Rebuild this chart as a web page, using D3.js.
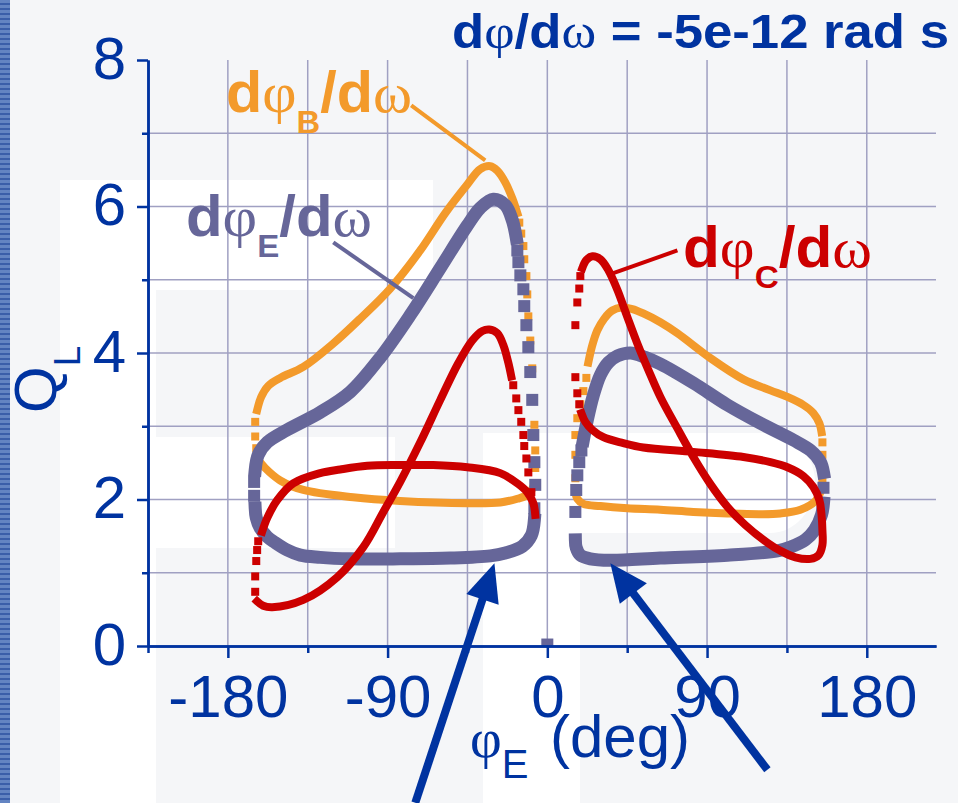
<!DOCTYPE html>
<html>
<head>
<meta charset="utf-8">
<script src="https://cdn.jsdelivr.net/npm/d3@7"></script>
<style>
  body { margin: 0; background: #f5f6f8; }
  svg { display: block; }
</style>
</head>
<body>
<div id="chart"></div>
<script>
// ---- axes ----
const xTicksMajor = [-180, -90, 0, 90, 180];
const xTicksMinor = [-225, -135, -45, 45, 135];
const yTicksMajor = [0, 2, 4, 6, 8];
const yTicksMinor = [1, 3, 5, 7];
const gridX = [-180, -135, -90, -45, 0, 45, 90, 135, 180];
const gridY = [1, 2, 3, 4, 5, 6, 7];

// ---- dφB/dω (orange) : [phiE deg, QL] ----
const bLeftLine1 = [[-163.5,2.56],[-159.0,2.43],[-150.5,2.26],[-137.5,2.13],[-109.4,2.03],[-82.9,1.98],[-45.1,1.95],[-26.5,1.96],[-16.9,2.01],[-10.7,2.07],[-7.3,2.21]];
const bLeftDots1 = [[-6.8,2.43],[-6.8,2.67],[-7.3,3.02],[-7.9,3.38],[-8.5,3.79],[-9.6,4.17],[-10.7,4.50],[-11.3,4.80],[-11.8,5.05],[-13.0,5.28],[-13.5,5.46],[-14.7,5.63],[-15.8,5.78]];
const bLeftLine2 = [[-16.9,5.91],[-19.7,6.11],[-23.7,6.33],[-28.2,6.49],[-32.1,6.55],[-37.8,6.51],[-45.1,6.30],[-57.5,5.91],[-71.6,5.40],[-88.5,4.88],[-105.4,4.47],[-120.6,4.13],[-137.5,3.81],[-150.5,3.66],[-157.3,3.55],[-161.2,3.40],[-163.5,3.22]];
const bLeftDots2 = [[-164.6,3.06],[-164.6,2.86],[-164.0,2.70]];
const bRightDots1 = [[15.8,2.29],[15.8,2.61],[15.8,2.88],[16.9,3.11],[18.6,3.30],[20.3,3.48],[22.0,3.66]];
const bRightLine1 = [[23.1,3.87],[25.4,4.11],[28.2,4.31],[32.1,4.47],[36.6,4.58],[41.7,4.62],[47.9,4.60],[54.1,4.54],[63.7,4.42],[73.3,4.27],[91.9,3.93],[110.5,3.64],[125.7,3.49],[135.3,3.40],[144.3,3.29],[149.9,3.18],[153.3,3.04],[154.5,2.92]];
const bRightDots2 = [[155.0,2.78],[155.0,2.61],[155.0,2.43],[155.0,2.24]];
const bRightLine2 = [[153.9,2.10],[151.1,1.98],[142.6,1.86],[131.3,1.81],[120.1,1.80],[101.5,1.81],[82.3,1.83],[63.7,1.86],[45.1,1.88],[29.9,1.91],[20.3,1.94],[16.9,2.01],[15.8,2.10]];

// ---- dφE/dω (purple) ----
const eLeftLine1 = [[-7.3,1.72],[-9.0,1.51],[-14.1,1.36],[-23.7,1.27],[-32.1,1.23],[-54.7,1.20],[-82.9,1.19],[-111.0,1.19],[-128.0,1.21],[-139.2,1.24],[-146.6,1.31],[-153.3,1.41],[-157.8,1.49],[-161.8,1.61],[-164.0,1.75],[-164.6,1.88]];
const eLeftDots1 = [[-165.2,2.05],[-165.2,2.24]];
const eLeftLine2 = [[-164.6,2.40],[-162.9,2.61],[-157.8,2.78],[-146.6,2.95],[-128.0,3.19],[-111.0,3.47],[-94.1,3.94],[-77.2,4.52],[-60.3,5.16],[-45.1,5.74],[-37.8,5.98],[-30.4,6.10],[-23.7,6.02],[-19.7,5.81],[-17.5,5.57]];
const eLeftDots2 = [[-16.9,5.40],[-16.3,5.24],[-15.2,5.06],[-13.5,4.87],[-13.0,4.64],[-11.8,4.38],[-10.7,4.08],[-9.6,3.74],[-8.5,3.36],[-7.9,2.88],[-7.3,2.51],[-6.8,2.20],[-7.3,1.88]];
const eRightDots1 = [[15.8,1.83],[16.3,2.13],[16.9,2.33],[18.0,2.51],[19.2,2.67]];
const eRightLine1 = [[20.3,2.81],[22.5,3.08],[25.9,3.42],[29.9,3.70],[34.4,3.87],[39.5,3.96],[46.8,4.00],[55.2,3.94],[63.7,3.85],[82.3,3.59],[101.5,3.29],[120.1,3.04],[138.7,2.81],[148.3,2.67],[153.9,2.51],[155.6,2.37]];
const eRightDots2 = [[155.6,2.16]];
const eRightLine2 = [[155.6,1.95],[154.5,1.79],[150.5,1.58],[145.4,1.45],[137.0,1.35],[129.7,1.30],[101.5,1.24],[63.7,1.20],[35.5,1.17],[24.2,1.19],[18.6,1.24],[16.3,1.34],[15.8,1.45]];
const eOrigin = [[0,0.02]];

// ---- dφC/dω (red) ----
const cLeftLine1 = [[-6.8,1.79],[-7.9,1.95],[-11.3,2.10],[-16.3,2.21],[-26.5,2.36],[-45.1,2.44],[-64.3,2.47],[-82.9,2.47],[-101.5,2.46],[-116.7,2.41],[-128.0,2.36],[-143.2,2.22],[-152.2,1.99],[-157.8,1.75],[-160.7,1.56]];
const cLeftDots1 = [[-162.9,1.43],[-163.5,1.31],[-164.0,1.16],[-164.6,0.95],[-164.6,0.74]];
const cLeftLine2 = [[-163.5,0.61],[-160.1,0.55],[-155.0,0.53],[-137.5,0.63],[-118.4,0.94],[-103.7,1.35],[-92.4,1.83],[-82.9,2.24],[-71.6,2.78],[-60.3,3.36],[-50.2,3.86],[-42.3,4.17],[-36.6,4.30],[-32.7,4.32],[-28.2,4.27],[-24.8,4.11],[-22.0,3.87],[-20.3,3.68]];
const cLeftDots2 = [[-19.2,3.56],[-17.5,3.38],[-16.3,3.22],[-14.7,3.06],[-13.5,2.88],[-13.0,2.73],[-11.8,2.56],[-10.7,2.37],[-9.0,2.10]];
const cRightDots1 = [[18.6,5.05],[18.0,4.88],[16.9,4.69],[15.8,4.38],[15.8,3.67],[16.9,3.45],[18.0,3.30]];
const cRightLine1 = [[19.2,3.18],[21.4,3.06],[25.4,2.95],[31.6,2.85],[42.8,2.77],[54.1,2.71],[82.3,2.65],[110.5,2.58],[125.7,2.51],[135.3,2.44],[144.3,2.32],[149.9,2.17],[153.3,1.99],[154.5,1.79],[155.0,1.58],[155.0,1.38],[152.8,1.24],[148.3,1.19],[139.8,1.21],[131.3,1.30],[124.0,1.41],[111.6,1.65],[101.5,1.90],[91.9,2.21],[82.3,2.58],[73.3,2.97],[63.7,3.40],[56.9,3.77],[50.7,4.13],[45.1,4.49],[39.5,4.86],[34.4,5.13],[29.9,5.28],[25.4,5.32],[22.0,5.27],[19.7,5.16]];

// ---- annotations ----
const leaderB = [[-76.7,7.38],[-35.0,6.63]];
const leaderE = [[-120.6,5.51],[-75.5,4.75]];
const leaderC = [[73.3,5.40],[37.2,5.09]];
const arrows = [[[-74.4,-2.14],[-29.8,1.13]], [[124.0,-1.69],[35.5,1.13]]];

const W = 958, H = 803;
const BLUE = "#0033a0", ORANGE = "#f39a2b", PURPLE = "#666699", RED = "#cc0000", GRID = "#a0a0c2";
const SANS = "'Liberation Sans', Arial, sans-serif";
const SERIF = "'Liberation Serif', 'Times New Roman', serif";

const svg = d3.select("#chart").append("svg").attr("width", W).attr("height", H);

// background + faint watermark
svg.append("rect").attr("width", W).attr("height", H).attr("fill", "#f5f6f8");
const defs = svg.append("defs");
const pat = defs.append("pattern").attr("id", "stripes").attr("width", 10).attr("height", 5).attr("patternUnits", "userSpaceOnUse");
pat.append("rect").attr("width", 10).attr("height", 5).attr("fill", "#6384c2");
pat.append("rect").attr("y", 3).attr("width", 10).attr("height", 2).attr("fill", "#3a5ea9");
svg.append("rect").attr("width", 10).attr("height", H).attr("fill", "url(#stripes)");
const wm = svg.append("g").attr("fill", "#ffffff");
wm.append("rect").attr("x", 60).attr("y", 180).attr("width", 96).attr("height", 623);
wm.append("rect").attr("x", 60).attr("y", 180).attr("width", 373).attr("height", 110);
wm.append("rect").attr("x", 60).attr("y", 437).attr("width", 335).attr("height", 111);
wm.append("rect").attr("x", 483).attr("y", 433).attr("width", 97).attr("height", 370);
wm.append("path").attr("d", "M580,433H770A45,50 0 0 1 770,533H580Z");

const x = d3.scaleLinear().domain([-225, 219]).range([148, 936]);
const y = d3.scaleLinear().domain([0, 8]).range([646, 60]);

// grid
svg.append("g").selectAll("line").data(gridX).enter().append("line")
  .attr("x1", d => x(d)).attr("x2", d => x(d)).attr("y1", y(0)).attr("y2", y(8))
  .attr("stroke", GRID).attr("stroke-width", 1.5);
svg.append("g").selectAll("line").data(gridY).enter().append("line")
  .attr("x1", x(-225)).attr("x2", x(219)).attr("y1", d => y(d)).attr("y2", d => y(d))
  .attr("stroke", GRID).attr("stroke-width", 1.5);

// curve labels
function curveLabel(px, py, color, sub, len) {
  const t = svg.append("text").attr("x", px).attr("y", py).attr("fill", color)
    .attr("font-family", SANS).attr("font-weight", "bold").attr("font-size", 58)
    .attr("textLength", len).attr("lengthAdjust", "spacingAndGlyphs");
  t.append("tspan").text("d");
  t.append("tspan").attr("font-family", SERIF).attr("font-weight", "normal").text("φ");
  t.append("tspan").attr("font-size", 32).attr("dy", 21).text(sub);
  t.append("tspan").attr("dy", -21).text("/d");
  t.append("tspan").attr("font-family", SERIF).attr("font-weight", "normal").text("ω");
}
curveLabel(226, 112, ORANGE, "B", 186);
curveLabel(186, 236, PURPLE, "E", 186);
curveLabel(683, 267, RED, "C", 189);

// series
defs.append("clipPath").attr("id", "plotclip").append("rect")
  .attr("x", x(-225)).attr("y", y(8) - 10).attr("width", x(219) - x(-225)).attr("height", y(0) - y(8) + 10);
const plot = svg.append("g").attr("clip-path", "url(#plotclip)");
const line = d3.line().x(d => x(d[0])).y(d => y(d[1])).curve(d3.curveCatmullRom.alpha(0.5));

const series = [
  { color: ORANGE, width: 8, dot: 8,
    lines: [bLeftLine1, bLeftLine2, bRightLine1, bRightLine2],
    dots: [bLeftDots1, bLeftDots2, bRightDots1, bRightDots2] },
  { color: PURPLE, width: 13, dot: 12,
    lines: [eLeftLine1, eLeftLine2, eRightLine1, eRightLine2],
    dots: [eLeftDots1, eLeftDots2, eRightDots1, eRightDots2, eOrigin] },
  { color: RED, width: 8, dot: 8,
    lines: [cLeftLine1, cLeftLine2, cRightLine1],
    dots: [cLeftDots1, cLeftDots2, cRightDots1] }
];

series.forEach(s => {
  const g = plot.append("g");
  s.lines.forEach(seg => {
    g.append("path").attr("d", line(seg)).attr("fill", "none")
      .attr("stroke", s.color).attr("stroke-width", s.width)
      .attr("stroke-linejoin", "round").attr("stroke-linecap", "square");
  });
  g.selectAll("rect").data(s.dots.flat()).enter().append("rect")
    .attr("x", d => x(d[0]) - s.dot / 2).attr("y", d => y(d[1]) - s.dot / 2)
    .attr("width", s.dot).attr("height", s.dot).attr("fill", s.color);
});

// leaders
[[leaderB, ORANGE], [leaderE, PURPLE], [leaderC, RED]].forEach(([pts, c]) => {
  svg.append("path").attr("d", d3.line().x(d => x(d[0])).y(d => y(d[1]))(pts))
    .attr("stroke", c).attr("stroke-width", 4).attr("fill", "none");
});

// axes
function styleAxis(g) {
  g.selectAll("path, line").attr("stroke", BLUE).attr("stroke-width", 2.5);
  g.attr("font-family", SANS).attr("font-size", 60);
  g.selectAll("text").attr("fill", BLUE);
}
const gxMinor = svg.append("g").attr("transform", `translate(0,${y(0)})`)
  .call(d3.axisBottom(x).tickValues(xTicksMinor).tickSize(7).tickSizeOuter(0).tickFormat(""));
styleAxis(gxMinor);
const gx = svg.append("g").attr("transform", `translate(0,${y(0)})`)
  .call(d3.axisBottom(x).tickValues(xTicksMajor).tickSize(12).tickSizeOuter(0).tickFormat(d3.format("d")));
styleAxis(gx);
gx.selectAll("text").attr("y", 71).attr("dy", 0).text(d => String(d).replace("−", "-"));

const gyMinor = svg.append("g").attr("transform", `translate(${x(-225)},0)`)
  .call(d3.axisLeft(y).tickValues(yTicksMinor).tickSize(6).tickSizeOuter(0).tickFormat(""));
styleAxis(gyMinor);
const gy = svg.append("g").attr("transform", `translate(${x(-225)},0)`)
  .call(d3.axisLeft(y).tickValues(yTicksMajor).tickSize(11).tickSizeOuter(0));
styleAxis(gy);
gy.selectAll("text").attr("x", -22).attr("dy", 18);

// axis titles
const yl = svg.append("text").attr("transform", "translate(56,413) rotate(-90)")
  .attr("font-family", SANS).attr("font-size", 60).attr("fill", BLUE);
yl.append("tspan").text("Q");
yl.append("tspan").attr("font-size", 37).attr("dy", 24).text("L");

const xl = svg.append("text").attr("x", 470).attr("y", 757)
  .attr("font-family", SANS).attr("font-size", 60).attr("fill", BLUE);
xl.append("tspan").attr("font-family", SERIF).attr("font-size", 55).text("φ");
xl.append("tspan").attr("font-size", 40).attr("dy", 21).text("E");
xl.append("tspan").attr("dy", -21).attr("x", 550).text("(deg)");

// title
const tt = svg.append("text").attr("x", 452).attr("y", 48)
  .attr("font-family", SANS).attr("font-weight", "bold").attr("font-size", 48).attr("fill", BLUE)
  .attr("textLength", 497).attr("lengthAdjust", "spacingAndGlyphs");
tt.append("tspan").text("d");
tt.append("tspan").attr("font-family", SERIF).attr("font-weight", "normal").text("φ");
tt.append("tspan").text("/d");
tt.append("tspan").attr("font-family", SERIF).attr("font-weight", "normal").text("ω");
tt.append("tspan").text(" = -5e-12 rad s");

// arrows
arrows.forEach(([tail, tip]) => {
  const x0 = x(tail[0]), y0 = y(tail[1]), x1 = x(tip[0]), y1 = y(tip[1]);
  const len = Math.hypot(x1 - x0, y1 - y0), ux = (x1 - x0) / len, uy = (y1 - y0) / len;
  const hl = 38, hw = 17;
  const bx = x1 - ux * hl, by = y1 - uy * hl;
  svg.append("line").attr("x1", x0).attr("y1", y0).attr("x2", bx + ux * 4).attr("y2", by + uy * 4)
    .attr("stroke", BLUE).attr("stroke-width", 8);
  svg.append("path")
    .attr("d", `M${x1},${y1}L${bx - uy * hw},${by + ux * hw}L${bx + uy * hw},${by - ux * hw}Z`)
    .attr("fill", BLUE);
});
</script>
</body>
</html>
